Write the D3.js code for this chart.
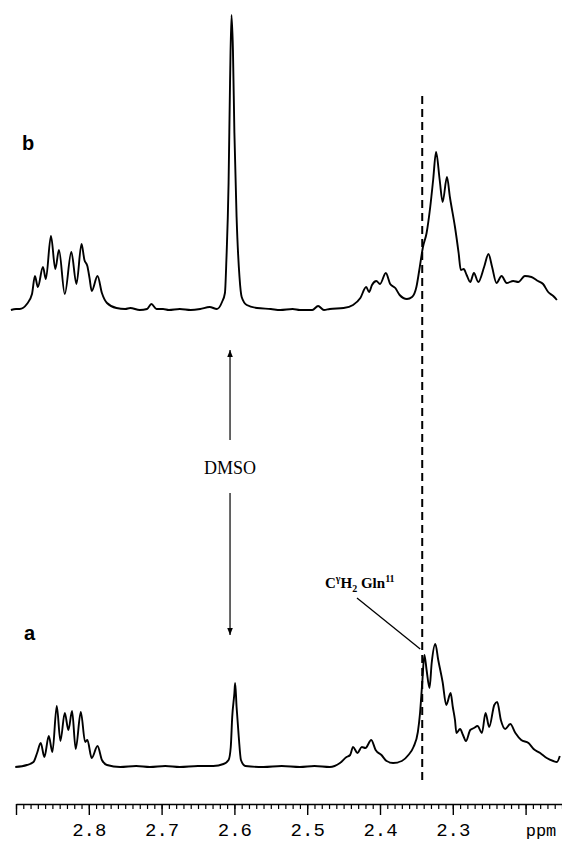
<!DOCTYPE html>
<html>
<head>
<meta charset="utf-8">
<script src="https://cdn.jsdelivr.net/npm/d3@7"></script>
<style>
  body { margin: 0; background: #fff; }
  svg { display: block; }
</style>
</head>
<body>
<div id="chart"></div>
<script>
// spectrum b (upper trace): [ppm, intensity]
let specB = [
	[2.907, 0], [2.900, 1], [2.895, 1], [2.885, 6], [2.878, 16], [2.874, 34], [2.870, 23],
	[2.863, 43], [2.859, 31], [2.852, 74], [2.846, 41], [2.841, 60], [2.833, 16],
	[2.824, 58], [2.817, 26], [2.810, 66], [2.806, 50], [2.802, 44], [2.799, 32],
	[2.796, 19], [2.788, 34], [2.782, 17], [2.775, 7], [2.762, 2], [2.750, 1], [2.743, 2],
	[2.730, 0], [2.720, 1], [2.714, 6], [2.707, 1], [2.698, 1], [2.690, 0], [2.675, 1],
	[2.660, 0], [2.647, 1], [2.634, 3], [2.624, 1], [2.617, 8], [2.613, 17],
	[2.611, 50], [2.608, 127], [2.606, 227], [2.604, 295], [2.602, 260], [2.600, 177],
	[2.597, 93], [2.593, 33], [2.590, 13], [2.583, 5], [2.569, 2], [2.550, 1],
	[2.537, 0], [2.520, 1], [2.510, 0], [2.493, 0], [2.485, 4], [2.477, 0],
	[2.469, 1], [2.450, 2], [2.437, 5], [2.427, 12], [2.419, 23], [2.415, 18],
	[2.411, 25], [2.405, 29], [2.400, 26], [2.392, 37], [2.386, 26], [2.379, 22],
	[2.373, 15], [2.363, 11], [2.356, 13], [2.350, 23], [2.346, 40], [2.341, 63],
	[2.336, 77], [2.331, 103], [2.327, 130], [2.323, 158], [2.318, 130], [2.314, 108],
	[2.308, 133], [2.304, 113], [2.297, 83], [2.292, 57], [2.289, 40], [2.285, 41],
	[2.281, 35], [2.276, 28], [2.271, 37], [2.265, 28], [2.257, 43], [2.251, 56],
	[2.246, 43], [2.240, 27], [2.233, 34], [2.226, 27], [2.217, 29], [2.210, 28],
	[2.201, 34], [2.192, 33], [2.183, 29], [2.176, 26], [2.169, 18], [2.162, 14],
	[2.157, 10]
];

// spectrum a (lower trace): [ppm, intensity]
let specA = [
	[2.901, 0], [2.885, 2], [2.876, 5], [2.871, 14], [2.866, 24], [2.861, 10],
	[2.855, 31], [2.850, 15], [2.844, 61], [2.839, 26], [2.833, 54], [2.828, 37],
	[2.823, 56], [2.818, 18], [2.811, 55], [2.805, 25], [2.802, 27], [2.796, 9],
	[2.788, 21], [2.782, 7], [2.775, 2], [2.757, 0], [2.735, 1], [2.716, 0],
	[2.695, 1], [2.675, 0], [2.650, 1], [2.629, 1], [2.615, 3], [2.608, 7],
	[2.605, 20], [2.603, 50], [2.600, 74], [2.599, 84], [2.597, 60], [2.594, 30],
	[2.591, 7], [2.585, 1], [2.560, 0], [2.535, 1], [2.510, 0], [2.490, 1],
	[2.469, 0], [2.455, 4], [2.446, 10], [2.441, 12], [2.437, 20], [2.431, 14],
	[2.425, 20], [2.420, 19], [2.412, 27], [2.406, 17], [2.398, 12], [2.391, 6],
	[2.382, 4], [2.370, 6], [2.361, 12], [2.354, 20], [2.348, 35], [2.345, 54],
	[2.342, 84], [2.339, 112], [2.336, 97], [2.332, 79], [2.329, 104], [2.324, 123],
	[2.320, 107], [2.314, 85], [2.309, 62], [2.303, 74], [2.300, 60], [2.297, 47],
	[2.295, 34], [2.290, 38], [2.286, 32], [2.282, 26], [2.276, 37], [2.271, 39],
	[2.266, 41], [2.260, 34], [2.255, 54], [2.250, 40], [2.243, 62], [2.239, 65],
	[2.234, 47], [2.228, 38], [2.221, 43], [2.214, 34], [2.206, 27], [2.196, 24],
	[2.189, 18], [2.180, 14], [2.171, 9], [2.162, 6], [2.157, 5], [2.153, 11]
];

let majorTicks = [2.9, 2.8, 2.7, 2.6, 2.5, 2.4, 2.3, 2.2];
let tickLabels = ["", "2.8", "2.7", "2.6", "2.5", "2.4", "2.3", ""];
let axisUnit = "ppm";
let dmsoShift = 2.606;
let glnShift = 2.342;

let width = 562, height = 841;

let svg = d3.select("#chart").append("svg")
	.attr("width", width)
	.attr("height", height);

// ppm axis runs right to left
let x = d3.scaleLinear()
	.domain([2.9, 2.15])
	.range([16, 562]);

let yB = d3.scaleLinear().domain([0, 300]).range([310, 10]);
let yA = d3.scaleLinear().domain([0, 300]).range([767, 467]);

let minorTicks = d3.range(0, 76).map(i => +(2.9 - i * 0.01).toFixed(2));

// minor ticks
svg.append("g")
	.attr("transform", "translate(0,804)")
	.call(d3.axisBottom(x).tickValues(minorTicks).tickSize(5).tickSizeOuter(0).tickFormat(""))
	.call(g => g.selectAll("line").attr("stroke", "#000").attr("stroke-width", 1.2))
	.call(g => g.select(".domain").attr("stroke", "#000").attr("stroke-width", 1.6));

// major ticks + labels
svg.append("g")
	.attr("transform", "translate(0,804)")
	.call(d3.axisBottom(x).tickValues(majorTicks).tickSize(11).tickSizeOuter(0)
		.tickPadding(8)
		.tickFormat((d, i) => tickLabels[i]))
	.call(g => g.select(".domain").remove())
	.call(g => g.selectAll("line").attr("stroke", "#000").attr("stroke-width", 1.4))
	.call(g => g.selectAll("text")
		.attr("fill", "#000")
		.style("font-family", "'Liberation Mono', monospace")
		.style("font-size", "19px"));

svg.append("text")
	.attr("x", 541)
	.attr("y", 836)
	.attr("text-anchor", "middle")
	.style("font-family", "'Liberation Mono', monospace")
	.style("font-size", "17px")
	.text(axisUnit);

// spectra
let lineB = d3.line()
	.x(d => x(d[0]))
	.y(d => yB(d[1]))
	.curve(d3.curveMonotoneX);

let lineA = d3.line()
	.x(d => x(d[0]))
	.y(d => yA(d[1]))
	.curve(d3.curveMonotoneX);

svg.append("path")
	.datum(specB)
	.attr("d", lineB)
	.attr("fill", "none")
	.attr("stroke", "#000")
	.attr("stroke-width", 1.9)
	.attr("stroke-linejoin", "round");

svg.append("path")
	.datum(specA)
	.attr("d", lineA)
	.attr("fill", "none")
	.attr("stroke", "#000")
	.attr("stroke-width", 1.9)
	.attr("stroke-linejoin", "round");

// dashed marker through both traces
svg.append("line")
	.attr("x1", x(glnShift)).attr("x2", x(glnShift))
	.attr("y1", 96).attr("y2", 783)
	.attr("stroke", "#000")
	.attr("stroke-width", 2)
	.attr("stroke-dasharray", "8,5");

// trace labels
svg.append("text")
	.attr("x", 22).attr("y", 150)
	.style("font-family", "'Liberation Sans', Arial, sans-serif")
	.style("font-weight", "bold")
	.style("font-size", "20px")
	.text("b");

svg.append("text")
	.attr("x", 24).attr("y", 640)
	.style("font-family", "'Liberation Sans', Arial, sans-serif")
	.style("font-weight", "bold")
	.style("font-size", "20px")
	.text("a");

// DMSO annotation with arrows
let defs = svg.append("defs");
defs.append("marker")
	.attr("id", "head")
	.attr("viewBox", "0 0 10 10")
	.attr("refX", 10).attr("refY", 5)
	.attr("markerWidth", 7).attr("markerHeight", 7)
	.attr("markerUnits", "userSpaceOnUse")
	.attr("orient", "auto")
	.append("path")
	.attr("d", "M0,1 L10,5 L0,9 Z")
	.attr("fill", "#000");

let ax = x(dmsoShift);
svg.append("line")
	.attr("x1", ax).attr("x2", ax)
	.attr("y1", 440).attr("y2", 350)
	.attr("stroke", "#000").attr("stroke-width", 1.2)
	.attr("marker-end", "url(#head)");

svg.append("line")
	.attr("x1", ax).attr("x2", ax)
	.attr("y1", 493).attr("y2", 635)
	.attr("stroke", "#000").attr("stroke-width", 1.2)
	.attr("marker-end", "url(#head)");

svg.append("text")
	.attr("x", ax).attr("y", 474)
	.attr("text-anchor", "middle")
	.style("font-family", "'Liberation Serif', 'Times New Roman', serif")
	.style("font-size", "18px")
	.text("DMSO");

// Gln label with leader line
let gln = svg.append("text")
	.attr("x", 325).attr("y", 588)
	.style("font-family", "'Liberation Serif', 'Times New Roman', serif")
	.style("font-weight", "bold")
	.style("font-size", "15px");
gln.append("tspan").text("C");
gln.append("tspan").attr("dy", -6).style("font-size", "10px").text("γ");
gln.append("tspan").attr("dy", 6).text("H");
gln.append("tspan").attr("dy", 4).style("font-size", "10px").text("2");
gln.append("tspan").attr("dy", -4).text(" Gln");
gln.append("tspan").attr("dy", -6).style("font-size", "10px").text("11");

svg.append("line")
	.attr("x1", 357).attr("y1", 598)
	.attr("x2", x(glnShift) - 2).attr("y2", 649)
	.attr("stroke", "#000").attr("stroke-width", 1.3);
</script>
</body>
</html>
